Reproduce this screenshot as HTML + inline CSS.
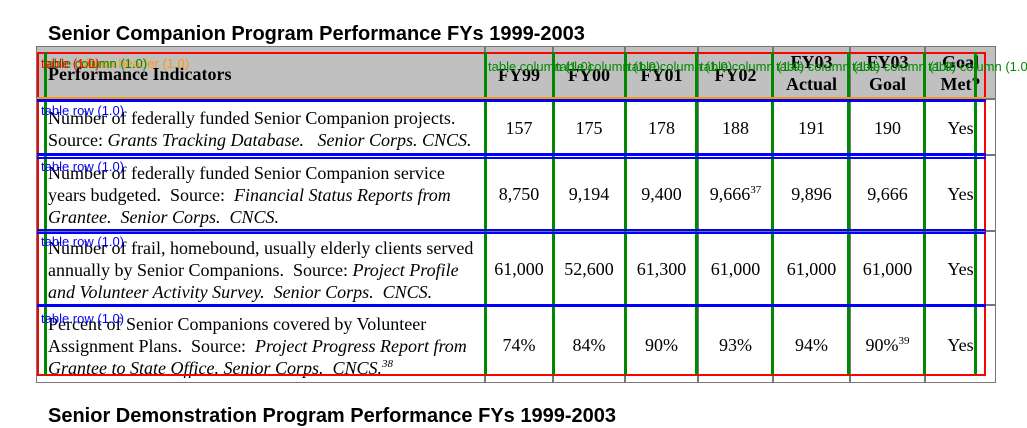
<!DOCTYPE html>
<html><head><meta charset="utf-8"><style>
body{margin:0;width:1027px;height:425px;background:#fff;position:relative;overflow:hidden;font-family:"Liberation Serif",serif;}
.t{position:absolute;font-family:"Liberation Sans",sans-serif;font-weight:bold;font-size:20px;color:#000;white-space:nowrap}
.c{position:absolute;box-sizing:border-box;border:1px solid #777;font-size:18px;line-height:22px;color:#000;display:flex;align-items:center}
.n{justify-content:center;text-align:center}
.h{background:#c0c0c0;font-weight:bold}
.d{padding-left:11px;padding-right:6px;padding-top:3px}
.o{position:absolute;font-family:"Liberation Sans",sans-serif;font-size:13px;white-space:nowrap;line-height:13px}
sup{font-size:11px;line-height:0}
</style></head><body>
<div class="t" style="left:48px;top:23px">Senior Companion Program Performance FYs 1999-2003</div>
<div style="position:absolute;left:36px;top:46px;width:960px;height:337px;border:1px solid #555;box-sizing:border-box"></div>
<div id="cells"></div>
<div class="t" style="left:48px;top:405px">Senior Demonstration Program Performance FYs 1999-2003</div>
<div id="ov"></div>
<script>
const colX=[36,485,553,625,698,773,850,925,996];
const rowY=[46,99,155,231,305,383];
const headers=["Performance Indicators","FY99","FY00","FY01","FY02","FY03<br>Actual","FY03<br>Goal","Goal<br>Met?"];
const indicators=[
"Number of federally funded Senior Companion projects. Source: <i>Grants Tracking Database.&nbsp;&nbsp; Senior Corps. CNCS.</i>",
"Number of federally funded Senior Companion service years budgeted.&nbsp; Source:&nbsp; <i>Financial Status Reports from Grantee.&nbsp; Senior Corps.&nbsp; CNCS.</i>",
"Number of frail, homebound, usually elderly clients served annually by Senior Companions.&nbsp; Source: <i>Project Profile and Volunteer Activity Survey.&nbsp; Senior Corps.&nbsp; CNCS.</i>",
"Percent of Senior Companions covered by Volunteer Assignment Plans.&nbsp; Source:&nbsp; <i>Project Progress Report from Grantee to State Office. Senior Corps.&nbsp; CNCS.<sup>38</sup></i>"];
const values=[
["157","175","178","188","191","190","Yes"],
["8,750","9,194","9,400","9,666<sup>37</sup>","9,896","9,666","Yes"],
["61,000","52,600","61,300","61,000","61,000","61,000","Yes"],
["74%","84%","90%","93%","94%","90%<sup>39</sup>","Yes"]];
const cells=document.getElementById('cells');
function cell(r,c,html,cls){
  const d=document.createElement('div');
  d.className='c '+cls;
  d.style.left=colX[c]+'px';d.style.top=rowY[r]+'px';
  d.style.width=(colX[c+1]-colX[c])+'px';d.style.height=(rowY[r+1]-rowY[r])+'px';
  if(r==0&&c>0&&c<5){d.style.paddingTop='4px';}
  if(r>0&&c>0){d.style.paddingTop='2px';}
  d.innerHTML='<span>'+html+'</span>';
  
  
  cells.appendChild(d);
}
headers.forEach((h,c)=>cell(0,c,h,'h '+(c==0?'d':'n')));
indicators.forEach((t,r)=>{cell(r+1,0,t,'d');values[r].forEach((v,c)=>cell(r+1,c+1,v,'n'));});
const ov=document.getElementById('ov');
function box(l,t,w,h,css,name){const d=document.createElement('div');d.style.cssText='position:absolute;left:'+l+'px;top:'+t+'px;width:'+w+'px;height:'+h+'px;box-sizing:border-box;'+css;

ov.appendChild(d);}
function lab(l,t,txt,col,name){const d=document.createElement('div');d.className='o';d.style.left=l+'px';d.style.top=t+'px';d.style.color=col;d.textContent=txt;

ov.appendChild(d);}
box(37,52,949,324,'border:2px solid #f00','table-overlay');
[45,485,553,625,696,772,848,924,975].forEach(x=>box(x-1,52,3,323,'background:#080','column-overlay'));
box(37,97,949,3,'background:#f90','header-overlay');
[[99,3],[153,3],[157,2],[229,2],[232,2],[304,3]].forEach(a=>box(37,a[0],949,a[1],'background:#00f','row-overlay'));
lab(41,57,'table column header (1.0)','#f90','header-label');
lab(43,57,'table column (1.0)','#080','column-label');
lab(41,57,'table (1.0)','#f00','table-label');
[490,558,630,702,778,854,930].forEach(x=>lab(x-2,60,'table column (1.0)','#080','column-label'));
[104,160,235,312].forEach(y=>lab(41,y,'table row (1.0)','#00f','row-label'));
</script>
</body></html>
